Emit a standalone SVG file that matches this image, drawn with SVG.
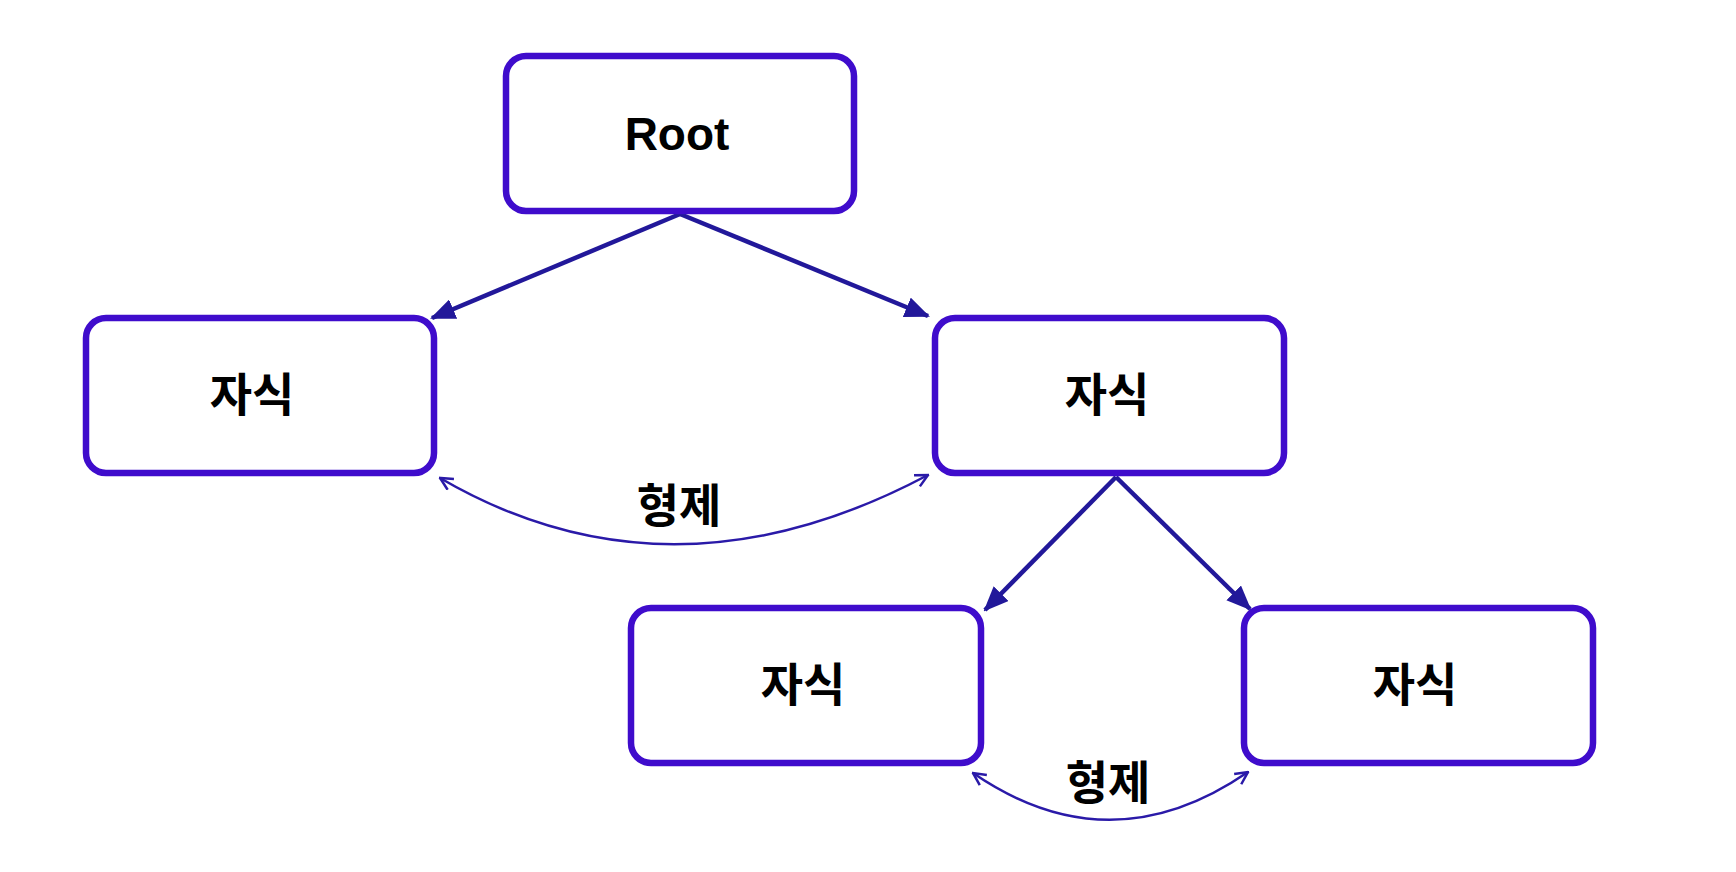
<svg xmlns="http://www.w3.org/2000/svg" width="1736" height="872" viewBox="0 0 1736 872">
  <style>
    .box { fill: #ffffff; stroke: #3f0ccc; stroke-width: 6.5; }
    .lbl { font-family: "Liberation Sans", "Noto Sans CJK KR", sans-serif; font-weight: bold; font-size: 46px; fill: #000000; text-anchor: middle; }
    .edge { fill: none; stroke: #22189a; stroke-width: 4.5; }
    .sib { fill: none; stroke: #2a1aa8; stroke-width: 2.5; }
  </style>
  <defs>
    <marker id="solid" viewBox="0 0 12 10" refX="11" refY="5" markerWidth="25" markerHeight="21" markerUnits="userSpaceOnUse" orient="auto">
      <path d="M0,0 L12,5 L0,10 Z" fill="#22189a"/>
    </marker>
    <marker id="open" viewBox="0 0 12 12" refX="11" refY="6" markerWidth="15" markerHeight="15" markerUnits="userSpaceOnUse" orient="auto-start-reverse">
      <path d="M1,1 L11,6 L1,11" fill="none" stroke="#2a1aa8" stroke-width="2"/>
    </marker>
  </defs>
  <rect width="1736" height="872" fill="#ffffff"/>

  <g id="connectors">
    <line class="edge" x1="680" y1="214" x2="432" y2="318" marker-end="url(#solid)"/>
    <line class="edge" x1="680" y1="214" x2="928" y2="316" marker-end="url(#solid)"/>
    <line class="edge" x1="1116" y1="477" x2="985" y2="610" marker-end="url(#solid)"/>
    <line class="edge" x1="1116" y1="477" x2="1250" y2="609" marker-end="url(#solid)"/>
    <path class="sib" d="M440,478 Q670,612 928,475" marker-start="url(#open)" marker-end="url(#open)"/>
    <path class="sib" d="M973,773 Q1110,867 1248,772" marker-start="url(#open)" marker-end="url(#open)"/>
    <text class="lbl" x="679" y="522">형제</text>
    <text class="lbl" x="1108" y="799">형제</text>
  </g>

  <g id="root">
    <rect class="box" x="506" y="56" width="348" height="155" rx="20"/>
    <text class="lbl" x="677" y="150" font-size="48">Root</text>
  </g>
  <g id="child-left">
    <rect class="box" x="86" y="318" width="348" height="155" rx="20"/>
    <text class="lbl" x="252" y="411">자식</text>
  </g>
  <g id="child-right">
    <rect class="box" x="935" y="318" width="349" height="155" rx="20"/>
    <text class="lbl" x="1107" y="411">자식</text>
  </g>
  <g id="grandchild-left">
    <rect class="box" x="631" y="608" width="350" height="155" rx="20"/>
    <text class="lbl" x="803" y="701">자식</text>
  </g>
  <g id="grandchild-right">
    <rect class="box" x="1244" y="608" width="349" height="155" rx="20"/>
    <text class="lbl" x="1415" y="701">자식</text>
  </g>
</svg>
